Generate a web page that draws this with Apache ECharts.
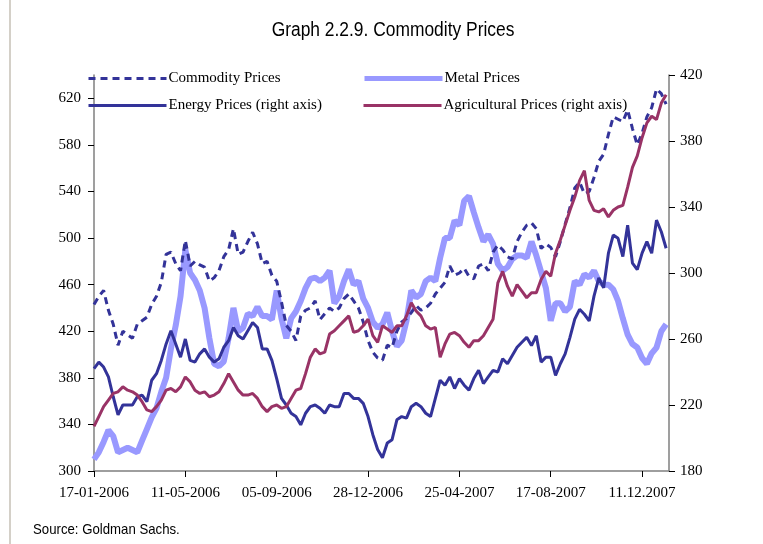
<!DOCTYPE html>
<html>
<head>
<meta charset="utf-8">
<script src="https://cdn.jsdelivr.net/npm/echarts@6/dist/echarts.min.js"></script>
<style>
  html, body { margin: 0; padding: 0; background: #fff; }
  #main { width: 763px; height: 544px; }
</style>
</head>
<body>
<div id="main"></div>
<script>
// one sample every ~4.3 trading days; a date label every 19 samples
var ticksEvery = 19
var lastX = 119.6
var dateLabels = ['17-01-2006', '11-05-2006', '05-09-2006', '28-12-2006', '25-04-2007', '17-08-2007', '11.12.2007']
var leftTicks = [300, 340, 380, 420, 460, 500, 540, 580, 620]
var rightTicks = [180, 220, 260, 300, 340, 380, 420]

var commodity = [
  443, 450, 455, 438, 426, 408, 420, 417, 414, 426,
  429, 432, 443, 450, 462, 486, 488, 478, 472, 498,
  476, 480, 477, 475, 463, 466, 472, 484, 490, 508,
  486, 488, 497, 505, 495, 478, 480, 468, 463, 445,
  425, 420, 412, 433, 438, 440, 446, 430, 435, 440,
  437, 440, 448, 452, 446, 440, 428, 412, 402, 397,
  395, 408, 406, 420, 428, 431, 436, 442, 438, 440,
  444, 452, 457, 462, 476, 468, 470, 474, 467, 465,
  476, 478, 472, 488, 494, 490, 484, 482, 497, 505,
  511, 513, 508, 491, 495, 492, 484, 497, 512, 526,
  543, 548, 538, 540, 552, 566, 572, 589, 604, 602,
  600, 610, 594, 580, 590, 604, 612, 628, 624, 615
]
var metal = [
  310, 316, 325, 335, 330, 316, 318, 320, 318, 316,
  326, 336, 346, 354, 368, 380, 405, 425, 450, 490,
  470, 464, 455, 440, 414, 392, 390, 394, 414, 440,
  420, 423, 435, 433, 441, 433, 433, 430, 455, 431,
  414, 431, 437, 446, 457, 465, 466, 463, 466, 472,
  444, 450, 463, 473, 460, 463, 448, 440, 428, 423,
  426, 436, 420, 407, 412, 429, 455, 449, 452, 463,
  466, 463, 483, 500, 500, 515, 511, 532, 536, 522,
  509, 497, 503, 495, 478, 472, 475, 482, 485, 485,
  483, 497, 485, 471, 457, 429, 444, 444, 437, 441,
  463, 460, 469, 466, 472, 463, 460, 460, 456, 446,
  431, 417, 409, 406, 397, 392, 401, 406, 420, 426
]
var energy = [
  242, 246, 243, 237, 225, 214, 220, 220, 220, 225,
  226, 222, 235, 239, 247, 257, 265, 257, 249, 260,
  247, 246, 251, 254, 249, 246, 248, 255, 259, 267,
  262, 260, 265, 270, 267, 254, 254, 247, 236, 224,
  220, 215, 213, 208, 215, 219, 220, 218, 215, 220,
  219, 219, 227, 227, 224, 224, 221, 213, 202, 193,
  188, 197, 199, 211, 213, 212, 219, 221, 219, 215,
  213, 224, 235, 232, 237, 230, 236, 232, 229, 236,
  241, 233, 237, 241, 240, 248, 245, 250, 255, 258,
  261, 256, 262, 246, 249, 249, 238, 245, 251, 261,
  272, 278, 275, 271, 286, 297, 291, 312, 323, 321,
  310, 329, 306, 302, 312, 319, 312, 332, 325, 315
]
var agricultural = [
  207, 213, 219, 223, 227, 228, 231, 229, 228, 226,
  222, 217, 216, 219, 223, 229, 230, 228, 231, 237,
  234, 229, 227, 228, 225, 226, 228, 233, 239, 234,
  229, 226, 226, 227, 224, 219, 216, 219, 220, 218,
  219, 224, 229, 230, 239, 249, 254, 251, 252, 263,
  265, 268, 271, 274, 264, 265, 268, 272, 262, 258,
  268, 266, 264, 268, 268, 274, 282, 277, 274, 268,
  266, 267, 249, 257, 263, 264, 262, 258, 255, 259,
  259, 262, 267, 272, 294, 301, 292, 286, 293, 289,
  285, 288, 288, 296, 301, 298, 312, 320, 329, 338,
  346, 356, 362, 344, 338, 337, 339, 334, 338, 340,
  341, 352, 364, 371, 382, 391, 395, 393, 403, 408
]

function pairs(arr) {
  return arr.map(function (v, i) { return [i, v] })
}

var serif = 'Liberation Serif'
var axisColor = '#7f7f7f'
var xTicks = dateLabels.map(function (d, i) { return i * ticksEvery })

function legendAt(name, left, top, width) {
  return {
    data: [name],
    left: left,
    top: top,
    itemWidth: 78,
    itemHeight: 14,
    itemGap: 0,
    selectedMode: false,
    itemStyle: { opacity: 0 },
    lineStyle: { width: width },
    textStyle: { fontFamily: serif, fontSize: 15, color: '#000', padding: [0, 0, 0, -3] }
  }
}

var chart = echarts.init(document.getElementById('main'), null, { renderer: 'canvas' })

var option = {
  backgroundColor: '#ffffff',
  animation: false,
  legend: [
    legendAt('Commodity Prices', 82, 66, 3),
    legendAt('Metal Prices', 357, 66, 5),
    legendAt('Energy Prices (right axis)', 82, 93, 3),
    legendAt('Agricultural Prices (right axis)', 357, 93, 3)
  ],
  grid: { left: 94, right: 94, top: 75, bottom: 73 },
  xAxis: {
    type: 'value',
    min: 0,
    max: lastX,
    splitLine: { show: false },
    axisLine: { lineStyle: { color: axisColor, width: 1.5 } },
    axisTick: { length: 6, lineStyle: { color: '#000' }, customValues: xTicks },
    axisLabel: {
      customValues: xTicks,
      formatter: function (v) { return dateLabels[Math.round(v / ticksEvery)] || '' },
      fontFamily: serif,
      fontSize: 15,
      color: '#000',
      margin: 15
    }
  },
  yAxis: [
    {
      type: 'value',
      min: 300,
      max: 640,
      splitLine: { show: false },
      axisLine: { show: true, lineStyle: { color: axisColor, width: 1.5 } },
      axisTick: { show: true, length: 6, lineStyle: { color: '#000' }, customValues: leftTicks },
      axisLabel: { customValues: leftTicks, fontFamily: serif, fontSize: 15, color: '#000', margin: 13 }
    },
    {
      type: 'value',
      min: 180,
      max: 420,
      splitLine: { show: false },
      axisLine: { show: true, lineStyle: { color: axisColor, width: 1.5 } },
      axisTick: { show: true, length: 6, lineStyle: { color: '#000' }, customValues: rightTicks },
      axisLabel: { customValues: rightTicks, fontFamily: serif, fontSize: 15, color: '#000', margin: 11 }
    }
  ],
  series: [
    {
      name: 'Metal Prices',
      type: 'line',
      yAxisIndex: 0,
      symbol: 'none',
      color: '#9999ff',
      lineStyle: { width: 6, color: '#9999ff' },
      data: pairs(metal)
    },
    {
      name: 'Commodity Prices',
      type: 'line',
      yAxisIndex: 0,
      symbol: 'none',
      color: '#333399',
      lineStyle: { width: 3, color: '#333399', type: [7, 5] },
      data: pairs(commodity)
    },
    {
      name: 'Energy Prices (right axis)',
      type: 'line',
      yAxisIndex: 1,
      symbol: 'none',
      color: '#333399',
      lineStyle: { width: 3, color: '#333399' },
      data: pairs(energy)
    },
    {
      name: 'Agricultural Prices (right axis)',
      type: 'line',
      yAxisIndex: 1,
      symbol: 'none',
      color: '#993366',
      lineStyle: { width: 3, color: '#993366' },
      data: pairs(agricultural)
    }
  ],
  graphic: [
    {
      type: 'rect',
      left: 9,
      top: 0,
      shape: { width: 2, height: 544 },
      style: { fill: '#d4d0c8' }
    },
    {
      // narrow sans title
      type: 'text',
      x: 393,
      y: 30,
      scaleX: 0.87,
      style: {
        text: 'Graph 2.2.9. Commodity Prices',
        font: '20px "Liberation Sans", sans-serif',
        fill: '#000',
        align: 'center',
        verticalAlign: 'middle'
      }
    },
    {
      type: 'text',
      x: 33,
      y: 530,
      scaleX: 0.88,
      style: {
        text: 'Source: Goldman Sachs.',
        font: '15px "Liberation Sans", sans-serif',
        fill: '#000',
        align: 'left',
        verticalAlign: 'middle'
      }
    }
  ]
}

chart.setOption(option)
</script>
</body>
</html>
